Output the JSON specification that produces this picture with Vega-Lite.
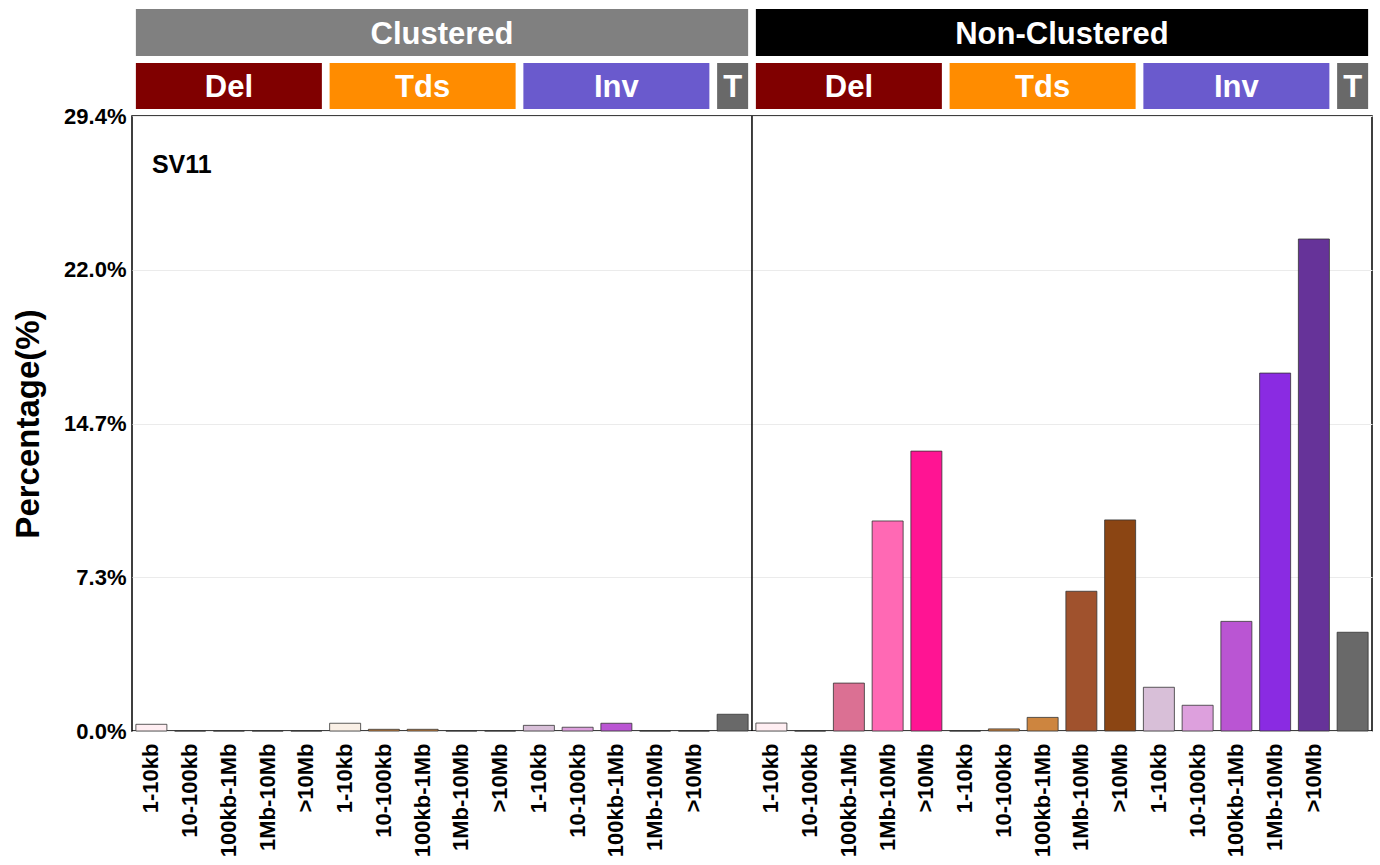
{
  "$schema": "https://vega.github.io/schema/vega-lite/v6.json",
  "padding": {"left": 11, "top": 9, "right": 9, "bottom": 5},
  "background": "white",
  "bounds": "flush",
  "config": {"font": "Liberation Sans", "view": {"stroke": null}, "concat": {"spacing": 7}},
  "resolve": {"scale": {"color": "independent", "x": "independent"}},
  "datasets": {
    "sv": [
      {"k": "Clustered:Del:1-10kb", "cat": "Del 1-10kb", "v": 0.32},
      {"k": "Clustered:Del:10-100kb", "cat": "Del 10-100kb", "v": 0},
      {"k": "Clustered:Del:100kb-1Mb", "cat": "Del 100kb-1Mb", "v": 0},
      {"k": "Clustered:Del:1Mb-10Mb", "cat": "Del 1Mb-10Mb", "v": 0},
      {"k": "Clustered:Del:>10Mb", "cat": "Del >10Mb", "v": 0},
      {"k": "Clustered:Tds:1-10kb", "cat": "Tds 1-10kb", "v": 0.37},
      {"k": "Clustered:Tds:10-100kb", "cat": "Tds 10-100kb", "v": 0.08},
      {"k": "Clustered:Tds:100kb-1Mb", "cat": "Tds 100kb-1Mb", "v": 0.08},
      {"k": "Clustered:Tds:1Mb-10Mb", "cat": "Tds 1Mb-10Mb", "v": 0},
      {"k": "Clustered:Tds:>10Mb", "cat": "Tds >10Mb", "v": 0},
      {"k": "Clustered:Inv:1-10kb", "cat": "Inv 1-10kb", "v": 0.27},
      {"k": "Clustered:Inv:10-100kb", "cat": "Inv 10-100kb", "v": 0.18},
      {"k": "Clustered:Inv:100kb-1Mb", "cat": "Inv 100kb-1Mb", "v": 0.37},
      {"k": "Clustered:Inv:1Mb-10Mb", "cat": "Inv 1Mb-10Mb", "v": 0},
      {"k": "Clustered:Inv:>10Mb", "cat": "Inv >10Mb", "v": 0},
      {"k": "Clustered:T:", "cat": "T", "v": 0.8},
      {"k": "Non-Clustered:Del:1-10kb", "cat": "Del 1-10kb", "v": 0.38},
      {"k": "Non-Clustered:Del:10-100kb", "cat": "Del 10-100kb", "v": 0},
      {"k": "Non-Clustered:Del:100kb-1Mb", "cat": "Del 100kb-1Mb", "v": 2.29},
      {"k": "Non-Clustered:Del:1Mb-10Mb", "cat": "Del 1Mb-10Mb", "v": 10.04},
      {"k": "Non-Clustered:Del:>10Mb", "cat": "Del >10Mb", "v": 13.38},
      {"k": "Non-Clustered:Tds:1-10kb", "cat": "Tds 1-10kb", "v": 0},
      {"k": "Non-Clustered:Tds:10-100kb", "cat": "Tds 10-100kb", "v": 0.1},
      {"k": "Non-Clustered:Tds:100kb-1Mb", "cat": "Tds 100kb-1Mb", "v": 0.65},
      {"k": "Non-Clustered:Tds:1Mb-10Mb", "cat": "Tds 1Mb-10Mb", "v": 6.68},
      {"k": "Non-Clustered:Tds:>10Mb", "cat": "Tds >10Mb", "v": 10.09},
      {"k": "Non-Clustered:Inv:1-10kb", "cat": "Inv 1-10kb", "v": 2.09},
      {"k": "Non-Clustered:Inv:10-100kb", "cat": "Inv 10-100kb", "v": 1.23},
      {"k": "Non-Clustered:Inv:100kb-1Mb", "cat": "Inv 100kb-1Mb", "v": 5.24},
      {"k": "Non-Clustered:Inv:1Mb-10Mb", "cat": "Inv 1Mb-10Mb", "v": 17.11},
      {"k": "Non-Clustered:Inv:>10Mb", "cat": "Inv >10Mb", "v": 23.52},
      {"k": "Non-Clustered:T:", "cat": "T", "v": 4.72}
    ],
    "strips1": [
      {"label": "Clustered", "start": "Clustered:Del:1-10kb", "end": "Clustered:T:", "mid": "Clustered:Tds:100kb-1Mb"},
      {"label": "Non-Clustered", "start": "Non-Clustered:Del:1-10kb", "end": "Non-Clustered:T:", "mid": "Non-Clustered:Tds:100kb-1Mb"}
    ],
    "strips2": [
      {"label": "Del", "start": "Clustered:Del:1-10kb", "end": "Clustered:Del:>10Mb", "mid": "Clustered:Del:100kb-1Mb"},
      {"label": "Tds", "start": "Clustered:Tds:1-10kb", "end": "Clustered:Tds:>10Mb", "mid": "Clustered:Tds:100kb-1Mb"},
      {"label": "Inv", "start": "Clustered:Inv:1-10kb", "end": "Clustered:Inv:>10Mb", "mid": "Clustered:Inv:100kb-1Mb"},
      {"label": "T", "start": "Clustered:T:", "end": "Clustered:T:", "mid": "Clustered:T:"},
      {"label": "Del", "start": "Non-Clustered:Del:1-10kb", "end": "Non-Clustered:Del:>10Mb", "mid": "Non-Clustered:Del:100kb-1Mb"},
      {"label": "Tds", "start": "Non-Clustered:Tds:1-10kb", "end": "Non-Clustered:Tds:>10Mb", "mid": "Non-Clustered:Tds:100kb-1Mb"},
      {"label": "Inv", "start": "Non-Clustered:Inv:1-10kb", "end": "Non-Clustered:Inv:>10Mb", "mid": "Non-Clustered:Inv:100kb-1Mb"},
      {"label": "T", "start": "Non-Clustered:T:", "end": "Non-Clustered:T:", "mid": "Non-Clustered:T:"}
    ]
  },
  "vconcat": [
    {
      "width": 1240,
      "height": 47,
      "data": {"name": "strips1"},
      "layer": [
        {
          "mark": {"type": "rect"},
          "encoding": {
            "x": {"field": "start", "type": "nominal", "bandPosition": 0, "axis": null,
              "scale": {"paddingInner": 0.2, "paddingOuter": 0.1, "domain": ["Clustered:Del:1-10kb","Clustered:Del:10-100kb","Clustered:Del:100kb-1Mb","Clustered:Del:1Mb-10Mb","Clustered:Del:>10Mb","Clustered:Tds:1-10kb","Clustered:Tds:10-100kb","Clustered:Tds:100kb-1Mb","Clustered:Tds:1Mb-10Mb","Clustered:Tds:>10Mb","Clustered:Inv:1-10kb","Clustered:Inv:10-100kb","Clustered:Inv:100kb-1Mb","Clustered:Inv:1Mb-10Mb","Clustered:Inv:>10Mb","Clustered:T:","Non-Clustered:Del:1-10kb","Non-Clustered:Del:10-100kb","Non-Clustered:Del:100kb-1Mb","Non-Clustered:Del:1Mb-10Mb","Non-Clustered:Del:>10Mb","Non-Clustered:Tds:1-10kb","Non-Clustered:Tds:10-100kb","Non-Clustered:Tds:100kb-1Mb","Non-Clustered:Tds:1Mb-10Mb","Non-Clustered:Tds:>10Mb","Non-Clustered:Inv:1-10kb","Non-Clustered:Inv:10-100kb","Non-Clustered:Inv:100kb-1Mb","Non-Clustered:Inv:1Mb-10Mb","Non-Clustered:Inv:>10Mb","Non-Clustered:T:"]}},
            "x2": {"field": "end", "bandPosition": 1},
            "color": {"field": "label", "type": "nominal", "legend": null,
              "scale": {"domain": ["Clustered", "Non-Clustered"], "range": ["#808080", "#000000"]}}
          }
        },
        {
          "mark": {"type": "text", "color": "white", "fontSize": 31, "fontWeight": "bold", "baseline": "middle", "align": "center", "dy": 2},
          "encoding": {
            "x": {"field": "mid", "type": "nominal", "bandPosition": 1.125},
            "text": {"field": "label"}
          }
        }
      ]
    },
    {
      "width": 1240,
      "height": 46,
      "data": {"name": "strips2"},
      "layer": [
        {
          "mark": {"type": "rect"},
          "encoding": {
            "x": {"field": "start", "type": "nominal", "bandPosition": 0, "axis": null,
              "scale": {"paddingInner": 0.2, "paddingOuter": 0.1, "domain": ["Clustered:Del:1-10kb","Clustered:Del:10-100kb","Clustered:Del:100kb-1Mb","Clustered:Del:1Mb-10Mb","Clustered:Del:>10Mb","Clustered:Tds:1-10kb","Clustered:Tds:10-100kb","Clustered:Tds:100kb-1Mb","Clustered:Tds:1Mb-10Mb","Clustered:Tds:>10Mb","Clustered:Inv:1-10kb","Clustered:Inv:10-100kb","Clustered:Inv:100kb-1Mb","Clustered:Inv:1Mb-10Mb","Clustered:Inv:>10Mb","Clustered:T:","Non-Clustered:Del:1-10kb","Non-Clustered:Del:10-100kb","Non-Clustered:Del:100kb-1Mb","Non-Clustered:Del:1Mb-10Mb","Non-Clustered:Del:>10Mb","Non-Clustered:Tds:1-10kb","Non-Clustered:Tds:10-100kb","Non-Clustered:Tds:100kb-1Mb","Non-Clustered:Tds:1Mb-10Mb","Non-Clustered:Tds:>10Mb","Non-Clustered:Inv:1-10kb","Non-Clustered:Inv:10-100kb","Non-Clustered:Inv:100kb-1Mb","Non-Clustered:Inv:1Mb-10Mb","Non-Clustered:Inv:>10Mb","Non-Clustered:T:"]}},
            "x2": {"field": "end", "bandPosition": 1},
            "color": {"field": "label", "type": "nominal", "legend": null,
              "scale": {"domain": ["Del", "Tds", "Inv", "T"], "range": ["#800000", "#FF8C00", "#6A5ACD", "#696969"]}}
          }
        },
        {
          "mark": {"type": "text", "color": "white", "fontSize": 31, "fontWeight": "bold", "baseline": "middle", "align": "center", "dy": 2},
          "encoding": {
            "x": {"field": "mid", "type": "nominal", "bandPosition": 0.5},
            "text": {"field": "label"}
          }
        }
      ]
    },
    {
      "width": 1240,
      "height": 615,
      "view": {"stroke": "black", "strokeWidth": 1.5},
      "layer": [
        {
          "data": {"name": "sv"},
          "mark": {"type": "bar", "stroke": "#333333", "strokeWidth": 0.8},
          "encoding": {
            "x": {"field": "k", "type": "nominal",
              "scale": {"paddingInner": 0.2, "paddingOuter": 0.1, "domain": ["Clustered:Del:1-10kb","Clustered:Del:10-100kb","Clustered:Del:100kb-1Mb","Clustered:Del:1Mb-10Mb","Clustered:Del:>10Mb","Clustered:Tds:1-10kb","Clustered:Tds:10-100kb","Clustered:Tds:100kb-1Mb","Clustered:Tds:1Mb-10Mb","Clustered:Tds:>10Mb","Clustered:Inv:1-10kb","Clustered:Inv:10-100kb","Clustered:Inv:100kb-1Mb","Clustered:Inv:1Mb-10Mb","Clustered:Inv:>10Mb","Clustered:T:","Non-Clustered:Del:1-10kb","Non-Clustered:Del:10-100kb","Non-Clustered:Del:100kb-1Mb","Non-Clustered:Del:1Mb-10Mb","Non-Clustered:Del:>10Mb","Non-Clustered:Tds:1-10kb","Non-Clustered:Tds:10-100kb","Non-Clustered:Tds:100kb-1Mb","Non-Clustered:Tds:1Mb-10Mb","Non-Clustered:Tds:>10Mb","Non-Clustered:Inv:1-10kb","Non-Clustered:Inv:10-100kb","Non-Clustered:Inv:100kb-1Mb","Non-Clustered:Inv:1Mb-10Mb","Non-Clustered:Inv:>10Mb","Non-Clustered:T:"]},
              "axis": {"title": null, "labelExpr": "split(datum.value, ':')[2]", "labelAngle": -90, "labelFontSize": 22, "labelFontWeight": "bold", "labelColor": "black", "ticks": false, "domain": false, "grid": false, "labelPadding": 12, "labelOverlap": false}},
            "y": {"field": "v", "type": "quantitative", "title": "Percentage(%)",
              "scale": {"domain": [0, 29.4], "nice": false},
              "axis": {"values": [0, 7.35, 14.7, 22.05, 29.4],
                "labelExpr": "datum.value == 7.35 ? '7.3%' : datum.value == 22.05 ? '22.0%' : format(datum.value, '.1f') + '%'",
                "labelFontSize": 22, "labelFontWeight": "bold", "labelColor": "black", "ticks": false, "domain": false, "labelPadding": 6,
                "gridColor": "#EBEBEB", "gridWidth": 1,
                "titleFontSize": 33, "titleFontWeight": "bold", "titleColor": "black", "titlePadding": 18}},
            "color": {"field": "cat", "type": "nominal", "legend": null,
              "scale": {
                "domain": ["Del 1-10kb", "Del 10-100kb", "Del 100kb-1Mb", "Del 1Mb-10Mb", "Del >10Mb", "Tds 1-10kb", "Tds 10-100kb", "Tds 100kb-1Mb", "Tds 1Mb-10Mb", "Tds >10Mb", "Inv 1-10kb", "Inv 10-100kb", "Inv 100kb-1Mb", "Inv 1Mb-10Mb", "Inv >10Mb", "T"],
                "range": ["#FFEEF2", "#FFB6C1", "#DB7093", "#FF69B4", "#FF1493", "#FAF0E6", "#CD853F", "#CD853F", "#A0522D", "#8B4513", "#D8BFD8", "#DDA0DD", "#BA55D3", "#8A2BE2", "#663399", "#696969"]}}
          }
        },
        {
          "data": {"values": [{}]},
          "mark": {"type": "rule", "color": "black", "strokeWidth": 1.5, "xOffset": -3.9},
          "encoding": {
            "x": {"datum": "Non-Clustered:Del:1-10kb", "type": "nominal", "bandPosition": 0}
          }
        },
        {
          "data": {"values": [{}]},
          "mark": {"type": "text", "fontSize": 25, "fontWeight": "bold", "align": "left", "baseline": "middle", "dx": 16, "color": "black"},
          "encoding": {
            "x": {"datum": "Clustered:Del:1-10kb", "type": "nominal", "bandPosition": 0},
            "y": {"datum": 27.06, "type": "quantitative"},
            "text": {"value": "SV11"}
          }
        }
      ]
    }
  ]
}
